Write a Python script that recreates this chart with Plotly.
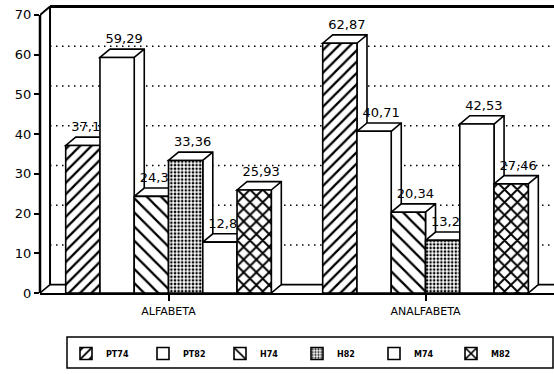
import plotly.graph_objects as go

# Categories and series
categories = ["ALFABETA", "ANALFABETA"]
series_names = ["PT74", "PT82", "H74", "H82", "M74", "M82"]

pt74 = [37.13, 62.87]
pt82 = [59.29, 40.71]
h74 = [24.33, 20.34]
h82 = [33.36, 13.25]
m74 = [12.80, 42.53]
m82 = [25.93, 27.46]

y_ticks = [0, 10, 20, 30, 40, 50, 60, 70]

series_values = [pt74, pt82, h74, h82, m74, m82]

# Fill pattern for each series (shape, tile size, solidity)
patterns = [
    dict(shape="/", size=8, solidity=0.28),
    dict(shape="", size=8, solidity=0.2),
    dict(shape="\\", size=10, solidity=0.22),
    dict(shape=".", size=3.6, solidity=0.4),
    dict(shape="", size=8, solidity=0.2),
    dict(shape="x", size=9, solidity=0.38),
]

FONT = "DejaVu Sans"
n = len(series_names)
group_width = 0.8
w = group_width / n
DX = 0.039   # depth offset along x (data units)
DY = 2.1     # depth offset along y (data units)
X_MIN, X_MAX = -0.5, 1.5
Y_TOP = 70

xs = list(range(len(categories)))


def fmt(v):
    return f"{v:.2f}".replace(".", ",")


fig = go.Figure()

# Bars, each preceded by a transparent carrier holding its value label, so the
# next bar in the group is painted over the label where they overlap.
for i, (name, vals, pat) in enumerate(zip(series_names, series_values, patterns)):
    off = -group_width / 2 + i * w
    fig.add_trace(go.Bar(
        x=xs, y=[v + DY for v in vals], width=w, offset=off + 0.7 * DX,
        marker=dict(color="rgba(0,0,0,0)", line=dict(width=0)),
        text=[fmt(v) for v in vals], textposition="outside", textangle=0,
        constraintext="none", cliponaxis=False,
        textfont=dict(family=FONT, size=13, color="black"),
        showlegend=False, hoverinfo="skip",
    ))
    fig.add_trace(go.Bar(
        name=name, x=xs, y=vals, width=w, offset=off,
        marker=dict(
            color="white",
            line=dict(color="black", width=1.6),
            pattern=dict(fgcolor="black", bgcolor="white", fillmode="replace", **pat),
        ),
        hoverinfo="skip",
    ))

shapes = []
# Dotted grid lines on the back wall
for g in y_ticks[1:-1]:
    shapes.append(dict(type="line", xref="x", yref="y", layer="below",
                       x0=X_MIN + DX, x1=X_MAX, y0=g + DY, y1=g + DY,
                       line=dict(color="black", width=1.4, dash="1.5px,4.5px")))
# Back wall, floor and corner edges
shapes += [
    dict(type="line", xref="x", yref="y", layer="below",
         x0=X_MIN + DX, x1=X_MAX, y0=Y_TOP + DY, y1=Y_TOP + DY,
         line=dict(color="black", width=3)),
    dict(type="line", xref="x", yref="y", layer="below",
         x0=X_MIN + DX, x1=X_MIN + DX, y0=DY, y1=Y_TOP + DY,
         line=dict(color="black", width=2)),
    dict(type="line", xref="x", yref="y", layer="below",
         x0=X_MIN + DX, x1=X_MAX, y0=DY, y1=DY,
         line=dict(color="black", width=1.6)),
    dict(type="line", xref="x", yref="y", layer="below",
         x0=X_MIN, x1=X_MIN + DX, y0=Y_TOP, y1=Y_TOP + DY,
         line=dict(color="black", width=2)),
    dict(type="line", xref="x", yref="y", layer="below",
         x0=X_MIN, x1=X_MIN + DX, y0=0, y1=DY,
         line=dict(color="black", width=1.6)),
    dict(type="line", xref="paper", yref="y", layer="above",
         x0=0, x1=0, y0=0, y1=Y_TOP,
         line=dict(color="black", width=2.5)),
]
# Top and side faces of every bar
for c in xs:
    for i, vals in enumerate(series_values):
        v = vals[c]
        x0 = c - group_width / 2 + i * w
        x1 = x0 + w
        path = (f"M{x0},{v} L{x0 + DX},{v + DY} L{x1 + DX},{v + DY} "
                f"L{x1 + DX},{DY} L{x1},0 L{x1},{v} Z M{x1},{v} L{x1 + DX},{v + DY}")
        shapes.append(dict(type="path", xref="x", yref="y", layer="below",
                           path=path, fillcolor="white",
                           line=dict(color="black", width=1.6)))

# Legend frame
W, H = 554, 374
ML, MR, MT, MB = 40, 0, 5, 81
pw, ph = W - ML - MR, H - MT - MB


def px_to_paper_x(px):
    return (px - ML) / pw


def px_to_paper_y(py):
    return (H - MB - py) / ph


shapes.append(dict(type="rect", xref="paper", yref="paper", layer="above",
                   x0=px_to_paper_x(67), x1=px_to_paper_x(553),
                   y0=px_to_paper_y(368), y1=px_to_paper_y(337),
                   line=dict(color="black", width=1.5), fillcolor="rgba(0,0,0,0)"))

fig.update_layout(
    width=W, height=H,
    margin=dict(l=ML, r=MR, t=MT, b=MB),
    barmode="overlay",
    plot_bgcolor="white", paper_bgcolor="white",
    shapes=shapes,
    showlegend=True,
    legend=dict(
        orientation="h", x=px_to_paper_x(66), y=px_to_paper_y(339),
        xanchor="left", yanchor="top",
        entrywidth=32, entrywidthmode="pixels", itemwidth=30,
        font=dict(family=FONT, size=8, color="black", weight="bold"),
        bgcolor="rgba(0,0,0,0)", borderwidth=0,
    ),
    xaxis=dict(
        range=[X_MIN, X_MAX], tickvals=xs, ticktext=categories,
        showgrid=False, zeroline=False,
        showline=True, linecolor="black", linewidth=2,
        ticks="outside", ticklen=6, tickwidth=1.5, tickcolor="black",
        ticklabelstandoff=1,
        tickfont=dict(family=FONT, size=11, color="black"),
    ),
    yaxis=dict(
        range=[0, 72.5], tickvals=y_ticks,
        showgrid=False, zeroline=False, showline=False,
        ticks="outside", ticklen=5, tickwidth=2, tickcolor="black",
        tickfont=dict(family=FONT, size=13, color="black"),
    ),
)

fig.write_html("out.html")
